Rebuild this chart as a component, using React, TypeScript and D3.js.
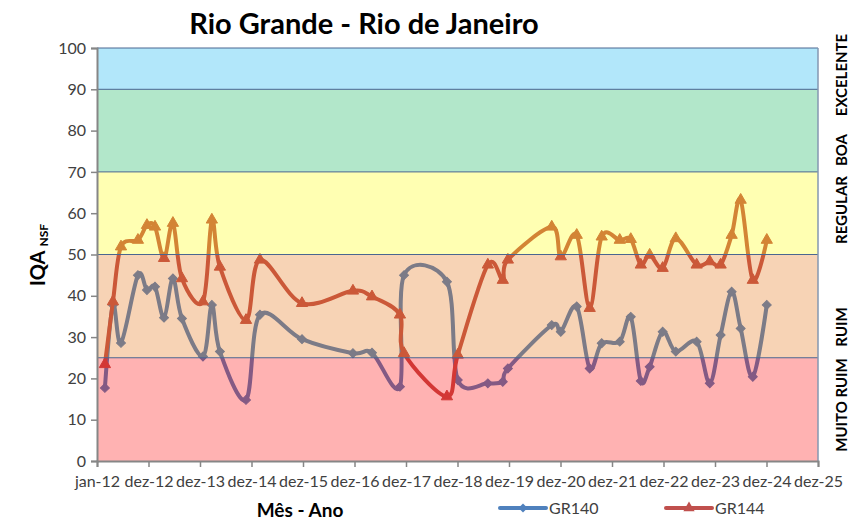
import * as React from 'react';
import * as d3 from 'd3';

// sampling dates
const dates = [
  '2012-02-26', '2012-04-23', '2012-06-19', '2012-10-17', '2012-12-20', '2013-02-15',
  '2013-04-20', '2013-06-22', '2013-08-25', '2014-01-21', '2014-03-25', '2014-05-21',
  '2014-11-22', '2015-03-01', '2015-12-24', '2016-12-19', '2017-05-03', '2017-11-17',
  '2017-12-16', '2018-10-16', '2019-01-01', '2019-08-02', '2019-11-16', '2019-12-22',
  '2020-10-28', '2020-12-31', '2021-04-23', '2021-07-24', '2021-10-17', '2022-02-22',
  '2022-05-11', '2022-07-21', '2022-09-22', '2022-12-23', '2023-03-26', '2023-08-21',
  '2023-11-22', '2024-02-07', '2024-04-25', '2024-06-28', '2024-09-22', '2024-12-30',
];

const gr140 = [
  17.7, 37.8, 28.6, 45.0, 41.4, 42.2, 34.7, 44.2, 34.5, 25.3, 37.8, 26.5,
  14.8, 35.4, 29.5, 26.1, 26.2, 18.0, 45.0, 43.4, 19.6, 18.8, 19.2, 22.4,
  32.9, 31.3, 37.4, 22.4, 28.5, 28.9, 34.9, 19.4, 22.8, 31.3, 26.5, 28.9,
  18.8, 30.5, 41.0, 32.1, 20.4, 37.8,
];

const gr144 = [
  23.4, 38.6, 51.9, 53.5, 57.1, 56.7, 49.1, 57.6, 44.2, 38.6, 58.4, 47.0,
  34.1, 48.7, 38.2, 41.2, 39.8, 35.4, 26.1, 15.6, 25.7, 47.5, 43.8, 48.7,
  56.7, 49.5, 54.7, 37.0, 54.3, 53.5, 53.7, 47.5, 49.9, 46.7, 53.9, 47.5,
  48.3, 47.5, 54.7, 63.2, 43.8, 53.5,
];

const yTicks = [0, 10, 20, 30, 40, 50, 60, 70, 80, 90, 100];
const xTickLabels = [
  'jan-12', 'dez-12', 'dez-13', 'dez-14', 'dez-15', 'dez-16', 'dez-17', 'dez-18',
  'dez-19', 'dez-20', 'dez-21', 'dez-22', 'dez-23', 'dez-24', 'dez-25',
];
const bandLimits = [0, 25, 50, 70, 90, 100];
const bandColors = ['#FF0000', '#E46C0A', '#FFFF00', '#00B050', '#00B0F0'];
const qualityLabels = ['MUITO RUIM', 'RUIM', 'REGULAR', 'BOA', 'EXCELENTE'];
const seriesNames = ['GR140', 'GR144'];

export default function App() {
  const ref = React.useRef<SVGSVGElement | null>(null);

  React.useEffect(() => {
    if (!ref.current) return;
    const svg = d3.select(ref.current);
    svg.selectAll('*').remove();

    const width = 851;
    const height = 520;
    const left = 97, right = 818, top = 48, bottom = 461;
    const font = 'Lato, "Open Sans", sans-serif';

    const parse = d3.utcParse('%Y-%m-%d');
    const start = new Date(Date.UTC(2012, 0, 1));
    const tickDates = xTickLabels.map((_, i) => d3.utcDay.offset(start, i * 365));
    const x = d3.scaleUtc().domain([start, tickDates[tickDates.length - 1]]).range([left, right]);
    const y = d3.scaleLinear().domain([0, 100]).range([bottom, top]);

    svg.append('rect').attr('width', width).attr('height', height).attr('fill', '#fff');

    // series lines sit under the translucent quality bands
    const colors = ['#4F81BD', '#C0504D'];
    const all = [gr140, gr144];
    const line = d3.line<[Date, number]>()
      .x(d => x(d[0]))
      .y(d => y(d[1]))
      .curve(d3.curveCardinal.tension(0));

    all.forEach((vals, si) => {
      const pts: [Date, number][] = vals.map((v, i) => [parse(dates[i]) as Date, v]);
      svg.append('path')
        .attr('d', line(pts) || '')
        .attr('fill', 'none')
        .attr('stroke', colors[si])
        .attr('stroke-width', 4)
        .attr('stroke-linejoin', 'round')
        .attr('stroke-linecap', 'round');
      const sym = si === 0
        ? d3.symbol().type(d3.symbolSquare).size(40)
        : d3.symbol().type(d3.symbolTriangle).size(55);
      svg.append('g').selectAll('path')
        .data(pts)
        .join('path')
        .attr('d', sym() as string)
        .attr('transform', d => `translate(${x(d[0])},${y(d[1])})${si === 0 ? ' rotate(45)' : ''}`)
        .attr('fill', colors[si])
        .attr('stroke', colors[si])
        .attr('stroke-width', 1);
    });

    // bands
    bandColors.forEach((c, i) => {
      svg.append('rect')
        .attr('x', left)
        .attr('y', y(bandLimits[i + 1]))
        .attr('width', right - left)
        .attr('height', y(bandLimits[i]) - y(bandLimits[i + 1]))
        .attr('fill', c)
        .attr('fill-opacity', 0.3);
    });
    bandLimits.slice(1).forEach(b => {
      svg.append('line')
        .attr('x1', left).attr('x2', right)
        .attr('y1', y(b)).attr('y2', y(b))
        .attr('stroke', '#4A6690').attr('stroke-width', 1);
    });
    svg.append('line')
      .attr('x1', right).attr('x2', right).attr('y1', top).attr('y2', bottom)
      .attr('stroke', '#8497B0').attr('stroke-width', 1.5);

    // axes
    const ay = d3.axisLeft(y).tickValues(yTicks).tickSize(6).tickPadding(5);
    const gy = svg.append('g').attr('transform', `translate(${left},0)`).call(ay as any);
    const ax = d3.axisBottom(x).tickValues(tickDates).tickSize(6).tickPadding(9)
      .tickFormat((_, i) => xTickLabels[i]);
    const gx = svg.append('g').attr('transform', `translate(0,${bottom})`).call(ax as any);
    [gx, gy].forEach(g => {
      g.select('.domain').attr('stroke', '#868686').attr('stroke-width', 2);
      g.selectAll('.tick line').attr('stroke', '#868686').attr('stroke-width', 1.5);
      g.selectAll('.tick text').attr('font-family', font).attr('font-size', 16).attr('fill', '#404040');
    });

    // titles
    svg.append('text')
      .attr('x', 364).attr('y', 34)
      .attr('text-anchor', 'middle')
      .attr('font-family', font).attr('font-weight', 'bold').attr('font-size', 29)
      .attr('fill', '#000')
      .text('Rio Grande - Rio de Janeiro');

    svg.append('text')
      .attr('x', 300).attr('y', 517)
      .attr('text-anchor', 'middle')
      .attr('font-family', font).attr('font-weight', 'bold').attr('font-size', 19)
      .attr('fill', '#000')
      .text('Mês - Ano');

    const yt = svg.append('text')
      .attr('transform', 'translate(45,255) rotate(-90)')
      .attr('text-anchor', 'middle')
      .attr('font-family', font).attr('font-weight', 'bold').attr('fill', '#000');
    yt.append('tspan').attr('font-size', 20).text('IQA');
    yt.append('tspan').attr('font-size', 12).attr('dx', 4).attr('dy', 3).text('NSF');

    // quality labels on the right
    const labelPos = [405, 327, 210, 150, 75];
    qualityLabels.forEach((t, i) => {
      svg.append('text')
        .attr('transform', `translate(847,${labelPos[i]}) rotate(-90)`)
        .attr('text-anchor', 'middle')
        .attr('font-family', font).attr('font-weight', 'bold').attr('font-size', 15)
        .attr('fill', '#000')
        .text(t);
    });

    // legend
    const legX = [500, 666];
    seriesNames.forEach((n, i) => {
      const g = svg.append('g').attr('transform', `translate(${legX[i]},508)`);
      g.append('line').attr('x1', 0).attr('x2', 46).attr('stroke', colors[i])
        .attr('stroke-width', 4).attr('stroke-linecap', 'round');
      const sym = i === 0
        ? d3.symbol().type(d3.symbolSquare).size(40)
        : d3.symbol().type(d3.symbolTriangle).size(55);
      g.append('path').attr('d', sym() as string)
        .attr('transform', `translate(23,0)${i === 0 ? ' rotate(45)' : ''}`)
        .attr('fill', colors[i]);
      g.append('text').attr('x', 49).attr('y', 6)
        .attr('font-family', font).attr('font-size', 16).attr('fill', '#404040')
        .text(n);
    });
  }, []);

  return (
    <svg ref={ref} width={851} height={520} viewBox="0 0 851 520"
      style={{ position: 'absolute', left: 0, top: 0 }} />
  );
}
